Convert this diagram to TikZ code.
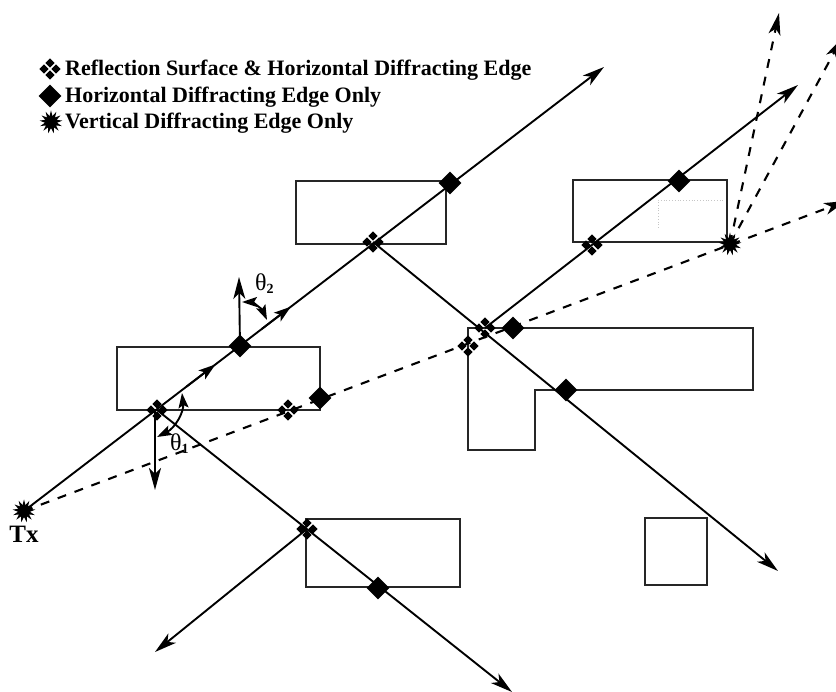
\documentclass[tikz,border=0pt]{standalone}
\usepackage{fontspec}
\setmainfont{Liberation Serif}
\usetikzlibrary{arrows.meta,shapes.geometric,calc}
\tikzset{
  x=1pt,y=-1pt,
  ray/.style={line width=1.9pt,-{Stealth[length=22pt,width=12pt,inset=6pt]}},
  dray/.style={ray,dash pattern=on 9pt off 9pt,line width=2.1pt},
  wall/.style={line width=1.9pt,draw=black!85},
  fd/.style={diamond,fill=black,inner sep=0pt,minimum size=23pt},
  sd/.style={diamond,fill=black,inner sep=0pt,minimum size=9.5pt},
  st/.style={star,star points=13,star point ratio=1.9,fill=black,inner sep=0pt,minimum size=23pt},
  legend/.style={anchor=base west,inner sep=0pt,font=\fontsize{22pt}{24pt}\selectfont\bfseries},
  fourd/.pic={\node[sd] at (-6,0){};\node[sd] at (6,0){};\node[sd] at (0,-6){};\node[sd] at (0,6){};},
  mid/.style={-{Stealth[length=17pt,width=11pt,inset=4pt]},line width=1.9pt},
  ang/.style={{Stealth[length=15pt,width=10pt,inset=3pt]}-{Stealth[length=15pt,width=10pt,inset=3pt]},line width=1.9pt}
}
\begin{document}
\begin{tikzpicture}
\useasboundingbox (0,0) rectangle (836,692);
\clip (0,0) rectangle (836,692);
% points
\coordinate (tx) at (24,511);
\coordinate (r1) at (157,410);
\coordinate (r2) at (288,410);
\coordinate (r3) at (373,242);
\coordinate (r4) at (592,245);
\coordinate (r5) at (468,346);
\coordinate (r6) at (485,328);
\coordinate (r7) at (307,529);
\coordinate (h1) at (240,346);
\coordinate (h2) at (320,398);
\coordinate (h3) at (450,183);
\coordinate (h4) at (679,181);
\coordinate (h5) at (513,328);
\coordinate (h6) at (566,390);
\coordinate (h7) at (378,588);
\coordinate (v1) at (730,244);
\coordinate (e1) at (604,67);
\coordinate (e2) at (798,85);
\coordinate (e3) at (778,571);
\coordinate (e4) at (512,692);
\coordinate (e5) at (155,652);
\coordinate (e6) at (779,13);
\coordinate (e7) at (842,38);
\coordinate (e8) at (846,201);
\coordinate (n1) at (239,277);
\coordinate (n2) at (155,490);
% walls
\draw[wall] (117,347) rectangle (320,410);
\draw[wall] (296,181) rectangle (446,244);
\draw[wall] (573,180) rectangle (727,242);
\draw[wall] (306,519) rectangle (460,587);
\draw[wall] (645,518) rectangle (707,585);
\draw[wall] (468,328) -- (753,328) -- (753,390) -- (535,390) -- (535,450) -- (468,450) -- cycle;
\draw[gray!45,dotted,line width=.8pt] (658,228) -- (658,200) -- (725,200);
% rays
\draw[ray] (tx) -- (e1);
\draw[mid] ($(tx)!0.28!(e1)$) -- ($(tx)!0.33!(e1)$);
\draw[mid] ($(tx)!0.41!(e1)$) -- ($(tx)!0.46!(e1)$);
\draw[ray] (r3) -- (e3);
\draw[ray] (r6) -- (e2);
\draw[ray] (r1) -- (e4);
\draw[ray] (r7) -- (e5);
\draw[dray] (tx) -- (e8);
\draw[dray] (v1) -- (e6);
\draw[dray] (v1) -- (e7);
\draw[ray] (h1) -- (n1);
\draw[ray] (155,411) -- (n2);
\draw[ang] (242,302) .. controls (252,302) and (262,309) .. (267,320);
\draw[ang] (182,393) .. controls (184,412) and (175,428) .. (157,437);
% markers
\foreach \p in {r1,r2,r3,r4,r5,r6,r7} \path (\p) pic {fourd};
\foreach \p in {h1,h2,h3,h4,h5,h6,h7} \node[fd] at (\p) {};
\node[st] at (tx) {};
\node[st] at (v1) {};
% labels
\node[anchor=base,inner sep=0pt,font=\fontsize{25pt}{26pt}\selectfont\bfseries] (txl) at (24,543) {Tx};
\node[anchor=base west,inner sep=0pt,font=\fontsize{24pt}{26pt}\selectfont] (t2) at (255,291) {θ\fontsize{14pt}{15pt}\selectfont\raisebox{-3pt}{\bfseries 2}};
\node[anchor=base west,inner sep=0pt,font=\fontsize{24pt}{26pt}\selectfont] (t1) at (170,451) {θ\fontsize{14pt}{15pt}\selectfont\raisebox{-3pt}{\bfseries 1}};
% legend
\path (50,69) pic {fourd};
\node[fd] (lg2) at (50,96) {};
\node[st] (lg3) at (51,122) {};
\node[legend] (l1) at (65,76) {Reflection Surface \& Horizontal Diffracting Edge};
\node[legend] (l2) at (65,103) {Horizontal Diffracting Edge Only};
\node[legend] (l3) at (65,129) {Vertical Diffracting Edge Only};
\end{tikzpicture}
\end{document}
